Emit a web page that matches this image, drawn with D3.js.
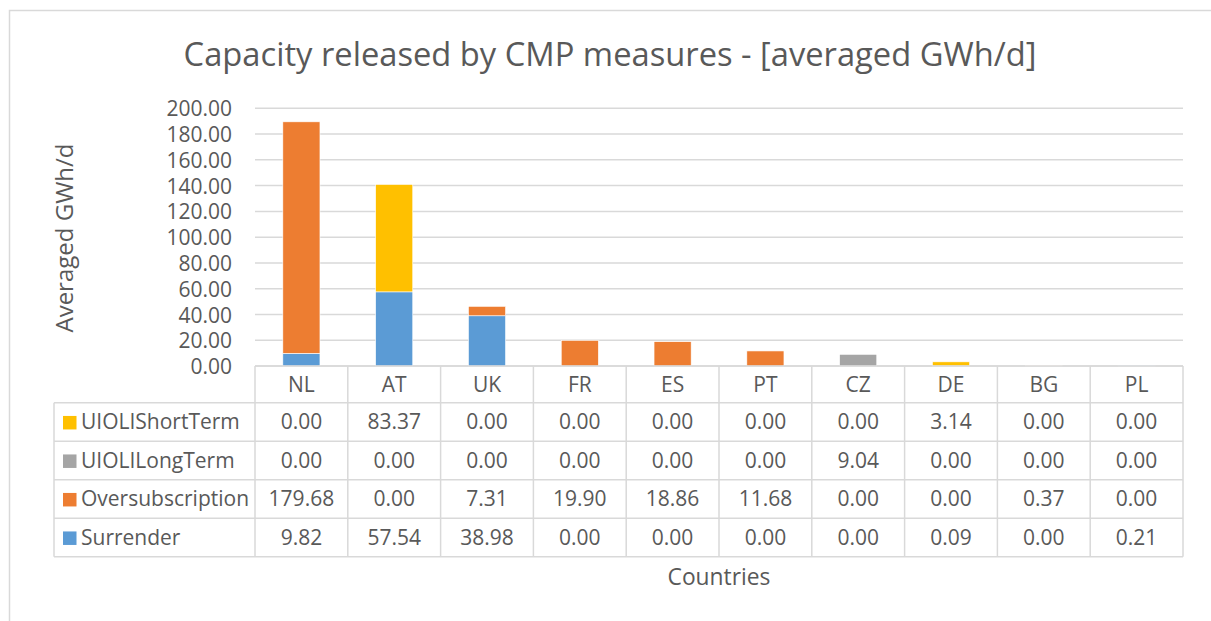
<!DOCTYPE html>
<html>
<head>
<meta charset="utf-8">
<script src="https://cdnjs.cloudflare.com/ajax/libs/d3/7.8.5/d3.min.js"></script>
<style>
  html, body { margin: 0; padding: 0; background: #fff; }
  svg { display: block; }
  text { font-family: "Open Sans", "Noto Sans", sans-serif; fill: #595959; }
</style>
</head>
<body>
<svg id="chart" width="1211" height="621"></svg>
<script>
const categories = ["NL", "AT", "UK", "FR", "ES", "PT", "CZ", "DE", "BG", "PL"];
const surrender = [9.82, 57.54, 38.98, 0.00, 0.00, 0.00, 0.00, 0.09, 0.00, 0.21];
const oversubscription = [179.68, 0.00, 7.31, 19.90, 18.86, 11.68, 0.00, 0.00, 0.37, 0.00];
const uioliLongTerm = [0.00, 0.00, 0.00, 0.00, 0.00, 0.00, 9.04, 0.00, 0.00, 0.00];
const uioliShortTerm = [0.00, 83.37, 0.00, 0.00, 0.00, 0.00, 0.00, 3.14, 0.00, 0.00];
const seriesNames = ["Surrender", "Oversubscription", "UIOLILongTerm", "UIOLIShortTerm"];
const seriesColors = ["#5B9BD5", "#ED7D31", "#A5A5A5", "#FFC000"];
const yTicks = [0, 20, 40, 60, 80, 100, 120, 140, 160, 180, 200];
const titleText = "Capacity released by CMP measures - [averaged GWh/d]";
const yAxisTitle = "Averaged GWh/d";
const xAxisTitle = "Countries";

const seriesValues = [surrender, oversubscription, uioliLongTerm, uioliShortTerm];
const rows = categories.map((c, i) => {
  const r = { cat: c };
  seriesNames.forEach((s, k) => r[s] = seriesValues[k][i]);
  return r;
});

const svg = d3.select("#chart");
const grid = "#d9d9d9";
const fs = 21;

// outer chart border (only top/left visible)
svg.append("rect").attr("x", 9.5).attr("y", 10.5).attr("width", 1220).attr("height", 630)
  .attr("fill", "none").attr("stroke", grid).attr("stroke-width", 1.5);

const pLeft = 255, pRight = 1183, pTop = 108.3, pBottom = 366;
const x = d3.scaleBand().domain(categories).range([pLeft, pRight]).paddingInner(0.6).paddingOuter(0.3);
const y = d3.scaleLinear().domain([0, 200]).range([pBottom, pTop]);

// gridlines
svg.append("g").selectAll("line").data(yTicks).join("line")
  .attr("x1", pLeft).attr("x2", pRight)
  .attr("y1", d => y(d)).attr("y2", d => y(d))
  .attr("stroke", grid).attr("stroke-width", 1.5);

// y axis labels
const yAxis = d3.axisLeft(y).tickValues(yTicks).tickFormat(d3.format(".2f")).tickSize(0).tickPadding(0);
const yg = svg.append("g").attr("transform", `translate(232,0)`).call(yAxis);
yg.select(".domain").remove();
yg.selectAll("text").style("font-family", "'Open Sans', sans-serif").style("font-size", fs + "px")
  .attr("fill", "#595959").attr("dy", "0.36em");

// stacked bars
const stack = d3.stack().keys(seriesNames)(rows);
svg.append("g").selectAll("g").data(stack).join("g")
  .attr("fill", (d, i) => seriesColors[i])
  .selectAll("rect").data(d => d.filter(p => p[1] - p[0] > 0)).join("rect")
  .attr("x", d => x(d.data.cat))
  .attr("width", x.bandwidth())
  .attr("y", d => y(d[1]))
  .attr("height", d => y(d[0]) - y(d[1]))
  .attr("stroke", "#fff").attr("stroke-width", 0.6);

// data table
const step = x.step();
const headerBottom = 402.7;
const rowH = 38.5;
const tableRows = ["UIOLIShortTerm", "UIOLILongTerm", "Oversubscription", "Surrender"];
const tableBottom = headerBottom + rowH * tableRows.length;
const legendLeft = 54;
const tg = svg.append("g");
tg.append("line").attr("x1", pLeft).attr("x2", pRight).attr("y1", pBottom).attr("y2", pBottom)
  .attr("stroke", grid).attr("stroke-width", 1.5);
d3.range(tableRows.length + 1).forEach(i => {
  tg.append("line").attr("x1", legendLeft).attr("x2", pRight)
    .attr("y1", headerBottom + i * rowH).attr("y2", headerBottom + i * rowH)
    .attr("stroke", grid).attr("stroke-width", 1.5);
});
d3.range(categories.length + 1).forEach(i => {
  tg.append("line").attr("x1", pLeft + i * step).attr("x2", pLeft + i * step)
    .attr("y1", pBottom).attr("y2", tableBottom)
    .attr("stroke", grid).attr("stroke-width", 1.5);
});
tg.append("line").attr("x1", legendLeft).attr("x2", legendLeft)
  .attr("y1", headerBottom).attr("y2", tableBottom).attr("stroke", grid).attr("stroke-width", 1.5);

// header
tg.selectAll("text.hdr").data(categories).join("text").attr("class", "hdr")
  .attr("x", d => x(d) + x.bandwidth() / 2).attr("y", 392)
  .attr("text-anchor", "middle").style("font-size", fs + "px").text(d => d);

// rows
tableRows.forEach((name, r) => {
  const k = seriesNames.indexOf(name);
  const cy = headerBottom + r * rowH + rowH / 2;
  tg.append("rect").attr("x", 63).attr("y", cy - 6).attr("width", 13.5).attr("height", 13.5)
    .attr("fill", seriesColors[k]);
  tg.append("text").attr("x", 81).attr("y", cy + 7.5).style("font-size", fs + "px").text(name);
  tg.selectAll(null).data(categories).join("text")
    .attr("x", d => x(d) + x.bandwidth() / 2).attr("y", cy + 7.5)
    .attr("text-anchor", "middle").style("font-size", fs + "px")
    .text((d, i) => d3.format(".2f")(seriesValues[k][i]));
});

// titles
svg.append("text").attr("x", 610).attr("y", 66).attr("text-anchor", "middle")
  .style("font-size", "32.7px").text(titleText);
svg.append("text").attr("transform", "translate(73,238) rotate(-90)").attr("text-anchor", "middle")
  .style("font-size", "24px").text(yAxisTitle);
svg.append("text").attr("x", (pLeft + pRight) / 2).attr("y", 585).attr("text-anchor", "middle")
  .style("font-size", "22.8px").text(xAxisTitle);
</script>
</body>
</html>
